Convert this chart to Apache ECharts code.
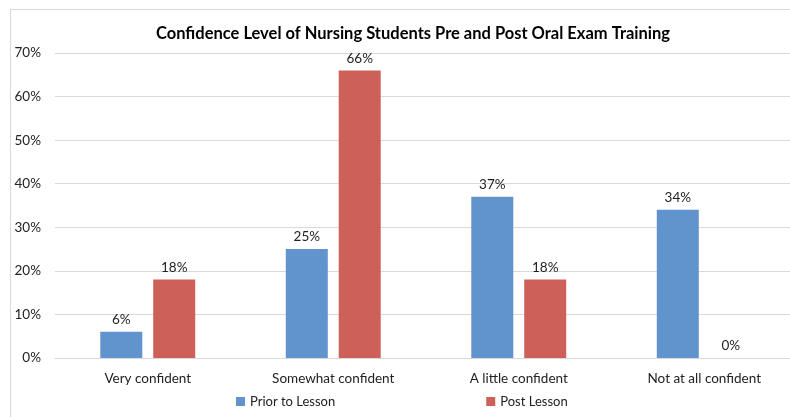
<!DOCTYPE html>
<html><head><meta charset="utf-8">
<script src="https://cdn.jsdelivr.net/npm/echarts@6/dist/echarts.min.js"></script>
<style>html,body{margin:0;padding:0;background:#fff;overflow:hidden;width:790px;height:417px}#c{width:800px;height:417px}</style>
</head><body><div id="c"></div>
<script>
const categories = ['Very confident','Somewhat confident','A little confident','Not at all confident'];
const priorToLesson = [6, 25, 37, 34];
const postLesson = [18, 66, 18, 0];
const yTicks = [0,10,20,30,40,50,60,70];

const chart = echarts.init(document.getElementById('c'));
const font = 'Lato, "Open Sans", sans-serif';
chart.setOption({
  animation: false,
  textStyle: {fontFamily: font},
  title: {text: 'Confidence Level of Nursing Students Pre and Post Oral Exam Training', left: 408, textAlign: 'center', top: 20,
    textStyle: {fontSize: 16.5, fontWeight: 'bold', color: '#000', fontFamily: font}},
  graphic: [
    {type:'line', shape:{x1:10,y1:9.5,x2:800,y2:9.5}, style:{stroke:'#d9d9d9', lineWidth:1}},
    {type:'line', shape:{x1:10.5,y1:9,x2:10.5,y2:417}, style:{stroke:'#d9d9d9', lineWidth:1}}
  ],
  legend: {bottom: 4, left: 231, itemGap: 151, itemWidth: 9, itemHeight: 9, icon: 'rect',
    textStyle: {fontSize: 13, color: '#222', fontFamily: font}, data: ['Prior to Lesson','Post Lesson']},
  grid: {left: 55, width: 742, top: 53, bottom: 59, containLabel: false},
  xAxis: {type: 'category', data: categories,
    axisLine: {lineStyle: {color: '#d9d9d9'}}, axisTick: {show: false},
    axisLabel: {fontSize: 13.5, color: '#222', margin: 14, fontFamily: font}},
  yAxis: {type: 'value', min: 0, max: 70, interval: 10,
    axisLabel: {formatter: v => yTicks.includes(v) ? v + '%' : '', fontSize: 13.5, color: '#222', margin: 14, fontFamily: font},
    splitLine: {lineStyle: {color: '#d9d9d9'}}, axisLine: {show: false}, axisTick: {show: false}},
  series: [
    {name: 'Prior to Lesson', type: 'bar', data: priorToLesson, barWidth: 42, barGap: '26%',
      itemStyle: {color: '#6193cd'},
      label: {show: true, position: 'top', formatter: '{c}%', fontSize: 13.5, color: '#222', distance: 5, fontFamily: font}},
    {name: 'Post Lesson', type: 'bar', data: postLesson, barWidth: 42,
      itemStyle: {color: '#cd615a'},
      label: {show: true, position: 'top', formatter: '{c}%', fontSize: 13.5, color: '#222', distance: 5, fontFamily: font}}
  ]
});
</script></body></html>
